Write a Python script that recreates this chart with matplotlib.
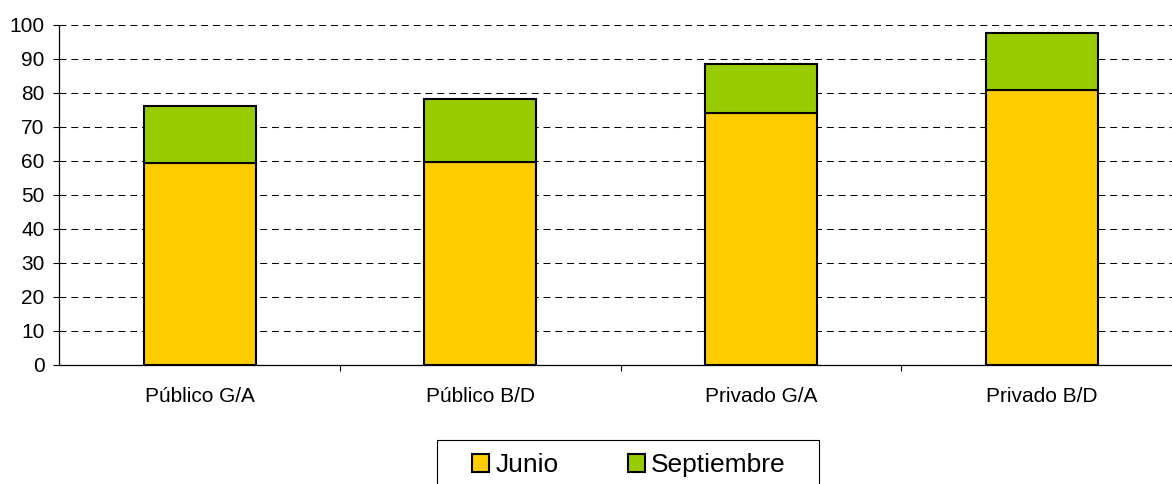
import numpy as np
import matplotlib
matplotlib.use("Agg")
import matplotlib.pyplot as plt
from matplotlib.ticker import FixedLocator
from matplotlib.patches import Rectangle

plt.rcParams['font.family'] = ['Liberation Sans', 'DejaVu Sans']
plt.rcParams['lines.scale_dashes'] = False

categorias = ["Público G/A", "Público B/D", "Privado G/A", "Privado B/D"]
junio = [59.3, 59.6, 74.1, 80.7]
septiembre = [16.8, 18.5, 14.2, 16.9]
series = ["Junio", "Septiembre"]
colores = ["#FFCC00", "#99CC00"]

W, H = 1172, 484
fig = plt.figure(figsize=(W / 100, H / 100), dpi=100)
# eje mas ancho que la figura: el original queda cortado a la derecha
ax = fig.add_axes([59.3 / W, 1 - 365 / H, (1182 - 59.3) / W, (365 - 24.5) / H])

x = np.arange(len(categorias))
ax.bar(x, junio, width=0.40, color=colores[0], edgecolor="black", linewidth=1.5,
       label=series[0], zorder=3)
ax.bar(x, septiembre, bottom=junio, width=0.40, color=colores[1], edgecolor="black",
       linewidth=1.5, label=series[1], zorder=3)

ax.set_xlim(-0.5, len(categorias) - 0.5)
ax.set_ylim(0, 100)
ax.set_yticks(np.arange(0, 101, 10))
ax.yaxis.grid(True, color="black", linestyle=(0, (5, 3.5)), linewidth=0.75, zorder=0)
ax.set_axisbelow(True)

ax.set_xticks(x)
ax.set_xticklabels(categorias)
ax.xaxis.set_minor_locator(FixedLocator(x[:-1] + 0.5))
ax.tick_params(axis="x", which="major", length=0, pad=15.5, labelsize=15)
ax.tick_params(axis="x", which="minor", length=4.5, width=0.8, direction="out")
ax.tick_params(axis="y", length=4.5, width=0.8, pad=6, labelsize=15)

for s in ["top", "right"]:
    ax.spines[s].set_visible(False)
ax.spines["left"].set_linewidth(0.9)
ax.spines["bottom"].set_linewidth(0.9)

# caja de la leyenda dibujada aparte (mas ancha que la de matplotlib)
fig.patches.append(Rectangle((437 / W, -0.05), (819 - 437) / W, 1 - 440 / H + 0.05,
                             transform=fig.transFigure, facecolor="white",
                             edgecolor="black", linewidth=0.8))
fig.legend(loc="center", bbox_to_anchor=(629 / W, 1 - 465 / H), ncol=2,
           fontsize=19, frameon=False, handlelength=0.65, handleheight=0.65,
           handletextpad=0.25, columnspacing=2.6, borderpad=0, borderaxespad=0)

plt.savefig("out.png", dpi=100)
